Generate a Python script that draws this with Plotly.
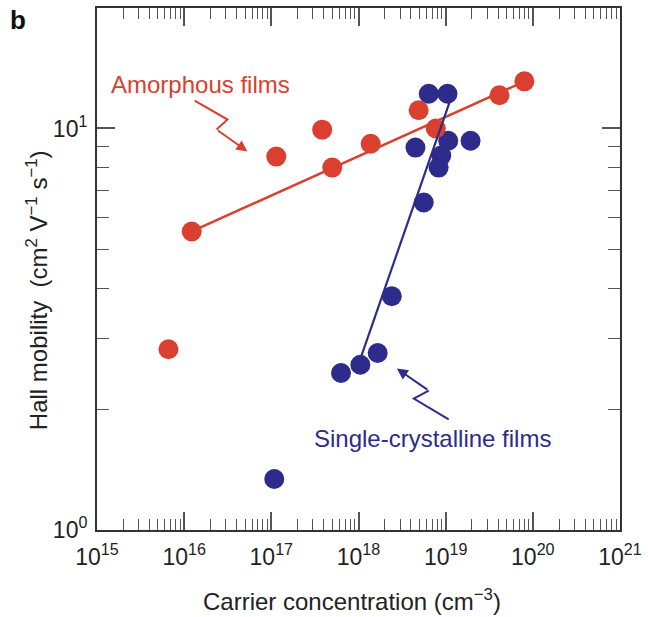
import plotly.graph_objects as go

# ---- data ----
amorph_x = [1.22e16, 6.6e15, 1.14e17, 3.83e17, 5.0e17, 1.38e18, 4.9e18, 7.7e18, 4.14e19, 8.0e19]
amorph_y = [5.54, 2.82, 8.51, 9.93, 7.99, 9.16, 11.1, 10.0, 12.1, 13.1]
amorph_fit_x = [1.22e16, 8.0e19]
amorph_fit_y = [5.54, 13.1]

single_x = [1.08e17, 6.3e17, 1.05e18, 1.66e18, 2.41e18, 5.6e18, 4.5e18, 6.4e18, 1.05e19,
            1.07e19, 8.9e18, 8.3e18, 1.93e19]
single_y = [1.34, 2.46, 2.58, 2.76, 3.82, 6.54, 8.96, 12.2, 12.2, 9.32, 8.56, 7.99, 9.32]
single_fit_x = [1.07e18, 1.23e19]
single_fit_y = [2.70, 12.4]

x_tickvals = [1e15, 1e16, 1e17, 1e18, 1e19, 1e20, 1e21]
x_ticktext = ["10<sup>15</sup>", "10<sup>16</sup>", "10<sup>17</sup>", "10<sup>18</sup>",
              "10<sup>19</sup>", "10<sup>20</sup>", "10<sup>21</sup>"]
y_tickvals = [1, 10]
y_ticktext = ["10<sup>0</sup>", "10<sup>1</sup>"]

RED = "#D9402F"
BLUE = "#2D2B8C"
FONT = "Liberation Sans, Arial, Helvetica, sans-serif"

W, H = 648, 617
ML, MR, MT, MB = 97, 26, 6, 87
PW, PH = W - ML - MR, H - MT - MB


def pxp(px, py):
    """pixel position -> paper coordinates (for decorative arrows)"""
    return (px - ML) / PW, (H - MB - py) / PH


fig = go.Figure()

fig.add_trace(go.Scatter(x=single_x, y=single_y, mode="markers",
                         marker=dict(size=20, color=BLUE, line=dict(width=0)),
                         showlegend=False, hoverinfo="skip"))
fig.add_trace(go.Scatter(x=amorph_fit_x, y=amorph_fit_y, mode="lines",
                         line=dict(color=RED, width=2.5), showlegend=False, hoverinfo="skip"))
fig.add_trace(go.Scatter(x=amorph_x, y=amorph_y, mode="markers",
                         marker=dict(size=20, color=RED, line=dict(width=0)),
                         showlegend=False, hoverinfo="skip"))
fig.add_trace(go.Scatter(x=single_fit_x, y=single_fit_y, mode="lines",
                         line=dict(color=BLUE, width=2.2), showlegend=False, hoverinfo="skip"))

minor_x = [float(m) * 10.0 ** e for e in range(15, 21) for m in range(2, 10)]
minor_y = [2.0, 3.0, 4.0, 5.0, 6.0, 7.0, 8.0, 9.0]

axis_common = dict(type="log", showgrid=False, zeroline=False, showline=True,
                   linecolor="#333", linewidth=2, mirror="ticks", ticks="inside",
                   tickcolor="#555", tickwidth=1.5, ticklen=18,
                   tickfont=dict(family=FONT, size=23, color="#222"))

fig.update_xaxes(**axis_common, range=[15, 21], tickmode="array",
                 tickvals=x_tickvals, ticktext=x_ticktext, ticklabelstandoff=5,
                 minor=dict(ticks="inside", ticklen=11, tickcolor="#555", tickwidth=1.2,
                            tickvals=minor_x, showgrid=False))
fig.update_yaxes(**axis_common, range=[0, 1.3], tickmode="array",
                 tickvals=y_tickvals, ticktext=y_ticktext, ticklabelstandoff=3,
                 minor=dict(ticks="inside", ticklen=12, tickcolor="#555", tickwidth=1.2,
                            tickvals=minor_y, showgrid=False))

annotations = []


def label(px, py, text, size, color, angle=0):
    x, y = pxp(px, py)
    annotations.append(dict(x=x, y=y, xref="paper", yref="paper", showarrow=False,
                            xanchor="center", yanchor="middle", textangle=angle,
                            text=text, font=dict(family=FONT, size=size, color=color)))


label(353, 600, "Carrier concentration (cm<sup>−3</sup>)", 24, "#222")
label(37, 289, "Hall mobility  (cm<sup>2</sup> V<sup>−1</sup> s<sup>−1</sup>)", 24, "#222", -90)
label(18, 18, "<b>b</b>", 26, "#111")
label(201, 83, "Amorphous films", 24, RED)
label(434, 438, "Single-crystalline films", 24, BLUE)

shapes = []


def squiggle(points, color):
    pts = [pxp(px, py) for px, py in points]
    path = "M " + " L ".join(f"{x:.4f},{y:.4f}" for x, y in pts[:-1])
    shapes.append(dict(type="path", xref="paper", yref="paper", path=path,
                       line=dict(color=color, width=2)))
    (tx, ty), (hx, hy) = points[-2], points[-1]
    hpx, hpy = pxp(hx, hy)
    annotations.append(dict(x=hpx, y=hpy, xref="paper", yref="paper", text="",
                            showarrow=True, arrowhead=2, arrowsize=1.1, arrowwidth=2,
                            arrowcolor=color, ax=tx - hx, ay=ty - hy))


squiggle([(195, 99), (228, 118), (217, 128), (248, 150)], RED)
squiggle([(450, 419), (415, 398), (430, 390), (398, 368)], BLUE)

fig.update_layout(width=W, height=H, margin=dict(l=ML, r=MR, t=MT, b=MB),
                  plot_bgcolor="white", paper_bgcolor="white",
                  annotations=annotations, shapes=shapes, showlegend=False)

fig.write_html("out.html", config={"displayModeBar": False},
               post_script="document.body.style.margin='0';")
